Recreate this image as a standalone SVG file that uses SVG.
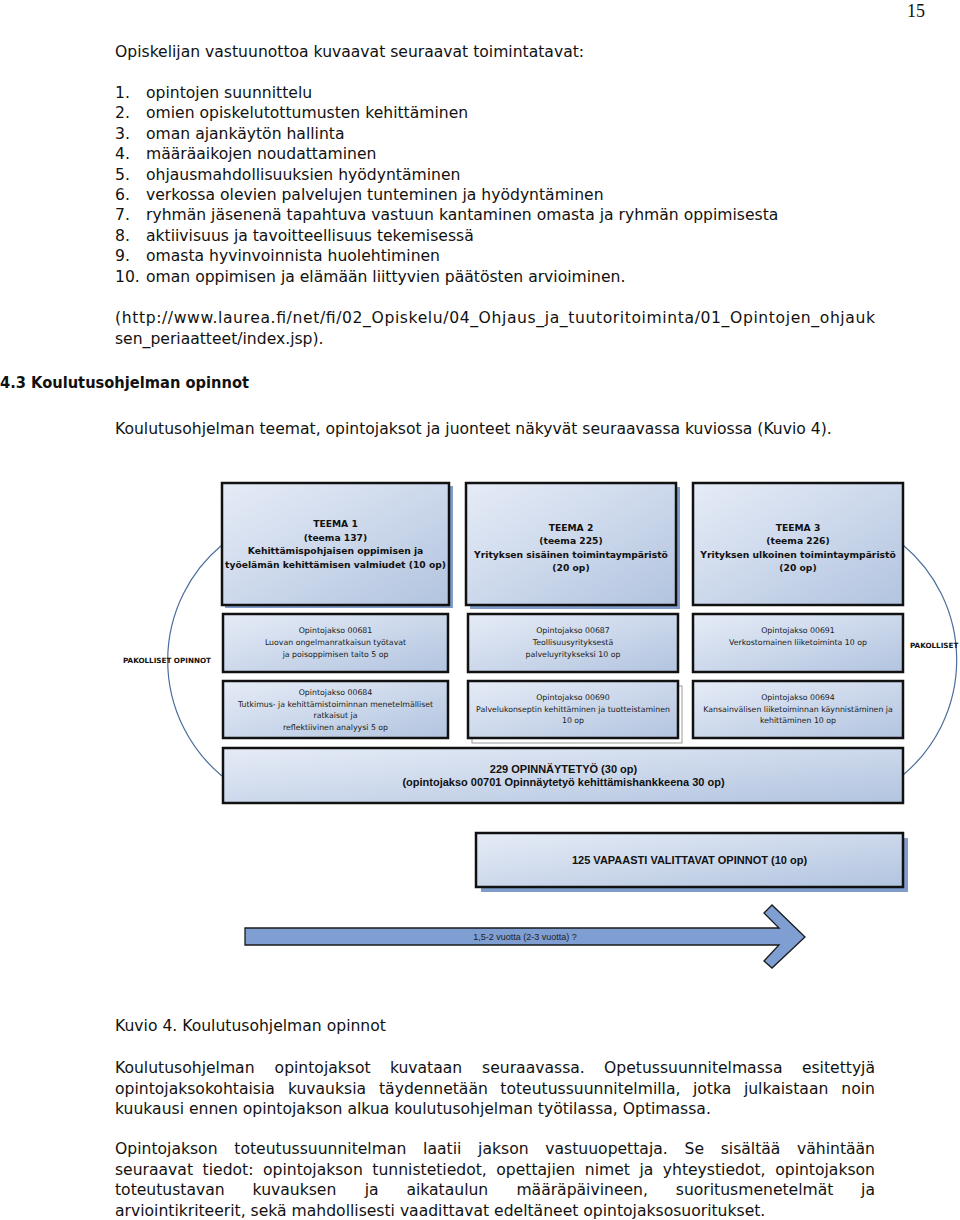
<svg xmlns="http://www.w3.org/2000/svg" width="960" height="1220" viewBox="0 0 960 1220">
<defs>
<linearGradient id="boxg" x1="0" y1="0" x2="1" y2="1">
<stop offset="0" stop-color="#e6ecf7"/>
<stop offset="1" stop-color="#b2c4df"/>
</linearGradient>
<style>
.t{font-family:"DejaVu Sans",Verdana,sans-serif;font-size:15.6px;fill:#111}
.tb{font-family:"DejaVu Sans",Verdana,sans-serif;font-size:15.6px;font-weight:bold;fill:#111}
.pg{font-family:"Liberation Serif","Times New Roman",serif;font-size:18px;fill:#111}
.box{fill:url(#boxg);stroke:#111;stroke-width:2.5}
.shadow{fill:#7f9ccb}
.ghost{fill:#fff;stroke:#9a9a9a;stroke-width:1}
.th{font-family:"DejaVu Sans",Verdana,sans-serif;font-size:9.2px;font-weight:bold;fill:#111;text-anchor:middle}
.ts{font-family:"DejaVu Sans",Verdana,sans-serif;font-size:7.8px;fill:#1a1a1a;text-anchor:middle}
.tl{font-family:"DejaVu Sans",Verdana,sans-serif;font-size:7.2px;font-weight:bold;fill:#111}
.ta{font-family:"Liberation Sans",Arial,sans-serif;font-size:11px;font-weight:bold;fill:#111;text-anchor:middle}
.tarrow{font-family:"Liberation Sans",Arial,sans-serif;font-size:9px;fill:#222;text-anchor:middle}
.arc{fill:none;stroke:#4d6d9d;stroke-width:1.2}
.arrow{fill:#7f9ed2;stroke:#1a1a1a;stroke-width:1.3}
</style>
</defs>
<rect width="960" height="1220" fill="#fff"/>

<text class="pg" x="925" y="17" text-anchor="end">15</text>

<g id="intro-text">
<text class="t" x="115" y="57">Opiskelijan vastuunottoa kuvaavat seuraavat toimintatavat:</text>
<text class="t" x="115" y="98">1.</text><text class="t" x="146" y="98">opintojen suunnittelu</text>
<text class="t" x="115" y="118.4">2.</text><text class="t" x="146" y="118.4">omien opiskelutottumusten kehittäminen</text>
<text class="t" x="115" y="138.8">3.</text><text class="t" x="146" y="138.8">oman ajankäytön hallinta</text>
<text class="t" x="115" y="159.2">4.</text><text class="t" x="146" y="159.2">määräaikojen noudattaminen</text>
<text class="t" x="115" y="179.6">5.</text><text class="t" x="146" y="179.6">ohjausmahdollisuuksien hyödyntäminen</text>
<text class="t" x="115" y="200">6.</text><text class="t" x="146" y="200">verkossa olevien palvelujen tunteminen ja hyödyntäminen</text>
<text class="t" x="115" y="220.4">7.</text><text class="t" x="146" y="220.4">ryhmän jäsenenä tapahtuva vastuun kantaminen omasta ja ryhmän oppimisesta</text>
<text class="t" x="115" y="240.8">8.</text><text class="t" x="146" y="240.8">aktiivisuus ja tavoitteellisuus tekemisessä</text>
<text class="t" x="115" y="261.2">9.</text><text class="t" x="146" y="261.2">omasta hyvinvoinnista huolehtiminen</text>
<text class="t" x="115" y="281.6">10.</text><text class="t" x="146" y="281.6">oman oppimisen ja elämään liittyvien päätösten arvioiminen.</text>
<text class="t" x="115" y="322.5" textLength="760" lengthAdjust="spacing">(http://www.laurea.fi/net/fi/02_Opiskelu/04_Ohjaus_ja_tuutoritoiminta/01_Opintojen_ohjauk</text>
<text class="t" x="115" y="343.5">sen_periaatteet/index.jsp).</text>
<text class="tb" x="0" y="388" textLength="249" lengthAdjust="spacingAndGlyphs">4.3 Koulutusohjelman opinnot</text>
<text class="t" x="115" y="434">Koulutusohjelman teemat, opintojaksot ja juonteet näkyvät seuraavassa kuviossa (Kuvio 4).</text>
</g>

<g id="connectors">
<path class="arc" d="M222,545 A150,150 0 0 0 222,776"/>
<path class="arc" d="M903,545 A150,150 0 0 1 903,775"/>
</g>

<g id="label-left"><text class="tl" x="123" y="663">PAKOLLISET OPINNOT</text></g>
<g id="label-right"><text class="tl" x="910" y="648">PAKOLLISET</text></g>

<g id="teema1">
<rect class="shadow" x="225" y="486" width="228" height="122"/>
<rect class="box" x="222" y="483" width="227" height="122"/>
<text class="th" x="335.5" y="527">TEEMA 1</text>
<text class="th" x="335.5" y="540.5">(teema 137)</text>
<text class="th" x="335.5" y="554">Kehittämispohjaisen oppimisen ja</text>
<text class="th" x="335.5" y="567.5">työelämän kehittämisen valmiudet (10 op)</text>
</g>

<g id="teema2">
<rect class="shadow" x="470" y="487" width="210" height="122"/>
<rect class="box" x="466" y="483" width="210" height="122"/>
<text class="th" x="571" y="530.5">TEEMA 2</text>
<text class="th" x="571" y="544">(teema 225)</text>
<text class="th" x="571" y="557.5">Yrityksen sisäinen toimintaympäristö</text>
<text class="th" x="571" y="571">(20 op)</text>
</g>

<g id="teema3">
<rect class="box" x="693" y="483" width="210" height="122"/>
<text class="th" x="798" y="530.5">TEEMA 3</text>
<text class="th" x="798" y="544">(teema 226)</text>
<text class="th" x="798" y="557.5">Yrityksen ulkoinen toimintaympäristö</text>
<text class="th" x="798" y="571">(20 op)</text>
</g>

<g id="oj00681">
<rect class="box" x="223" y="614" width="225" height="58"/>
<text class="ts" x="335.5" y="633">Opintojakso 00681</text>
<text class="ts" x="335.5" y="645">Luovan ongelmanratkaisun työtavat</text>
<text class="ts" x="335.5" y="657">ja poisoppimisen taito 5 op</text>
</g>

<g id="oj00687">
<rect class="box" x="468" y="614" width="210" height="58"/>
<text class="ts" x="573" y="633">Opintojakso 00687</text>
<text class="ts" x="573" y="645">Teollisuusyrityksestä</text>
<text class="ts" x="573" y="657">palveluyritykseksi 10 op</text>
</g>

<g id="oj00691">
<rect class="box" x="693" y="614" width="210" height="58"/>
<text class="ts" x="798" y="633">Opintojakso 00691</text>
<text class="ts" x="798" y="645">Verkostomainen liiketoiminta 10 op</text>
</g>

<g id="oj00684">
<rect class="box" x="223" y="681" width="225" height="57"/>
<text class="ts" x="335.5" y="695">Opintojakso 00684</text>
<text class="ts" x="335.5" y="706.5">Tutkimus- ja kehittämistoiminnan menetelmälliset</text>
<text class="ts" x="335.5" y="718">ratkaisut ja</text>
<text class="ts" x="335.5" y="729.5">reflektiivinen analyysi 5 op</text>
</g>

<g id="oj00690">
<rect class="ghost" x="472" y="686" width="210" height="57"/>
<rect class="box" x="468" y="681" width="210" height="57"/>
<text class="ts" x="573" y="700">Opintojakso 00690</text>
<text class="ts" x="573" y="711.5">Palvelukonseptin kehittäminen ja tuotteistaminen</text>
<text class="ts" x="573" y="723">10 op</text>
</g>

<g id="oj00694">
<rect class="box" x="693" y="681" width="210" height="57"/>
<text class="ts" x="798" y="700">Opintojakso 00694</text>
<text class="ts" x="798" y="711.5">Kansainvälisen liiketoiminnan käynnistäminen ja</text>
<text class="ts" x="798" y="723">kehittäminen 10 op</text>
</g>

<g id="opinnaytetyo">
<rect class="box" x="223" y="748" width="680" height="55"/>
<text class="ta" x="563.5" y="772.5">229 OPINNÄYTETYÖ (30 op)</text>
<text class="ta" x="563.5" y="786">(opintojakso 00701 Opinnäytetyö kehittämishankkeena 30 op)</text>
</g>

<g id="vapaasti">
<rect class="shadow" x="481" y="838" width="427" height="54"/>
<rect class="box" x="476" y="833" width="427" height="54"/>
<text class="ta" x="689.5" y="864">125 VAPAASTI VALITTAVAT OPINNOT (10 op)</text>
</g>

<g id="time-arrow">
<polygon class="arrow" points="245,928 779,928 764,913 772,905 805,937 772,968 764,961 779,945 245,945"/>
<text class="tarrow" x="525" y="940">1,5-2 vuotta (2-3 vuotta) ?</text>
</g>

<g id="bottom-text">
<text class="t" x="115" y="1031">Kuvio 4. Koulutusohjelman opinnot</text>

<text class="t" y="1073"><tspan x="115">Koulutusohjelman</tspan><tspan x="274.6">opintojaksot</tspan><tspan x="389.9">kuvataan</tspan><tspan x="482.1">seuraavassa.</tspan><tspan x="604">Opetussuunnitelmassa</tspan></text>
<text class="t" x="875" y="1073" text-anchor="end">esitettyjä</text>

<text class="t" y="1093.5"><tspan x="115">opintojaksokohtaisia</tspan><tspan x="287.9">kuvauksia</tspan><tspan x="379">täydennetään</tspan><tspan x="500.3">toteutussuunnitelmilla,</tspan><tspan x="692.9">jotka</tspan><tspan x="743.9">julkaistaan</tspan></text>
<text class="t" x="875" y="1093.5" text-anchor="end">noin</text>

<text class="t" x="115" y="1114">kuukausi ennen opintojakson alkua koulutusohjelman työtilassa, Optimassa.</text>

<text class="t" y="1154"><tspan x="115">Opintojakson</tspan><tspan x="234.3">toteutussuunnitelman</tspan><tspan x="423.1">laatii</tspan><tspan x="478.1">jakson</tspan><tspan x="545.3">vastuuopettaja.</tspan><tspan x="684.5">Se</tspan><tspan x="720.7">sisältää</tspan></text>
<text class="t" x="875" y="1154" text-anchor="end">vähintään</text>

<text class="t" y="1174.5"><tspan x="115">seuraavat</tspan><tspan x="202.6">tiedot:</tspan><tspan x="263">opintojakson</tspan><tspan x="372.3">tunnistetiedot,</tspan><tspan x="496.3">opettajien</tspan><tspan x="584.8">nimet</tspan><tspan x="639.4">ja</tspan><tspan x="662.8">yhteystiedot,</tspan></text>
<text class="t" x="875" y="1174.5" text-anchor="end">opintojakson</text>

<text class="t" y="1195"><tspan x="115">toteutustavan</tspan><tspan x="252.6">kuvauksen</tspan><tspan x="364.7">ja</tspan><tspan x="406.4">aikataulun</tspan><tspan x="516.4">määräpäivineen,</tspan><tspan x="675.8">suoritusmenetelmät</tspan></text>
<text class="t" x="875" y="1195" text-anchor="end">ja</text>

<text class="t" x="115" y="1215.5">arviointikriteerit, sekä mahdollisesti vaadittavat edeltäneet opintojaksosuoritukset.</text>
</g>
</svg>
